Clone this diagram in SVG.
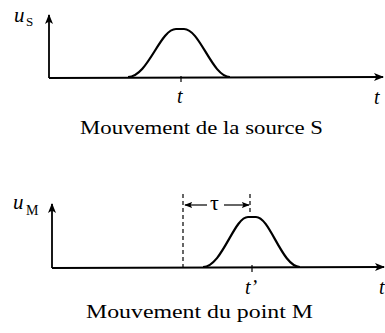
<svg xmlns="http://www.w3.org/2000/svg" width="385" height="333" viewBox="0 0 385 333">
<defs>
<marker id="ah" viewBox="0 0 10 10" refX="9" refY="5" markerWidth="10" markerHeight="10" markerUnits="userSpaceOnUse" orient="auto">
<path d="M0,1 L10,5 L0,9 L2.5,5 Z" fill="#000"/>
</marker>
<marker id="sa" viewBox="0 0 10 10" refX="9" refY="5" markerWidth="8" markerHeight="8" markerUnits="userSpaceOnUse" orient="auto">
<path d="M0,1 L10,5 L0,9 L2,5 Z" fill="#000"/>
</marker>
</defs>
<style>
.ax{stroke:#000;stroke-width:1.8;fill:none}
.cv{stroke:#000;stroke-width:2.2;fill:none}
.tk{stroke:#000;stroke-width:1.2}
.dash{stroke:#000;stroke-width:1.2;stroke-dasharray:4,3;fill:none}
.lbl{font-family:"Liberation Serif","Times New Roman",serif;fill:#000}
.it{font-style:italic}
.cap{font-family:"Liberation Serif","Times New Roman",serif;font-size:19px;fill:#000}
</style>
<g id="plot-source">
<g id="axes-source">
<path class="ax" d="M49,78 L49,15" marker-end="url(#ah)"/>
<path class="ax" d="M49,78 L383,77" marker-end="url(#ah)"/>
</g>
<path id="pulse-source" class="cv" d="M128,77 C148,77 160,29 176,29 L184,29 C200,29 212,77 230,77"/>
<line class="tk" x1="181" y1="76" x2="181" y2="82"/>
<text class="lbl it" x="14" y="22" font-size="21">u</text>
<text class="lbl" x="26" y="26" font-size="13">S</text>
<text class="lbl it" x="177" y="103" font-size="20">t</text>
<text class="lbl it" x="374" y="104" font-size="20">t</text>
<text class="cap" x="80" y="134" textLength="243" lengthAdjust="spacingAndGlyphs">Mouvement de la source S</text>
</g>
<g id="plot-point">
<g id="axes-point">
<path class="ax" d="M52,268 L52,204" marker-end="url(#ah)"/>
<path class="ax" d="M52,268 L384,267" marker-end="url(#ah)"/>
</g>
<path id="pulse-point" class="cv" d="M203,267 C222,267 234,217 248,217 L256,217 C270,217 282,267 300,267"/>
<line class="tk" x1="252" y1="265" x2="252" y2="272"/>
<line class="dash" x1="183" y1="194" x2="183" y2="267"/>
<line class="dash" x1="250" y1="194" x2="250" y2="213"/>
<g id="tau">
<line class="tk" x1="207" y1="205" x2="185" y2="205" marker-end="url(#sa)"/>
<line class="tk" x1="224" y1="205" x2="249" y2="205" marker-end="url(#sa)"/>
<text class="lbl" x="210" y="210" font-size="22">τ</text>
</g>
<text class="lbl it" x="13" y="209" font-size="21">u</text>
<text class="lbl" x="26" y="215" font-size="14">M</text>
<text class="lbl it" x="245" y="294" font-size="20">t’</text>
<text class="lbl it" x="379" y="294" font-size="20">t</text>
<text class="cap" x="86" y="318" textLength="227" lengthAdjust="spacingAndGlyphs">Mouvement du point M</text>
</g>
</svg>
